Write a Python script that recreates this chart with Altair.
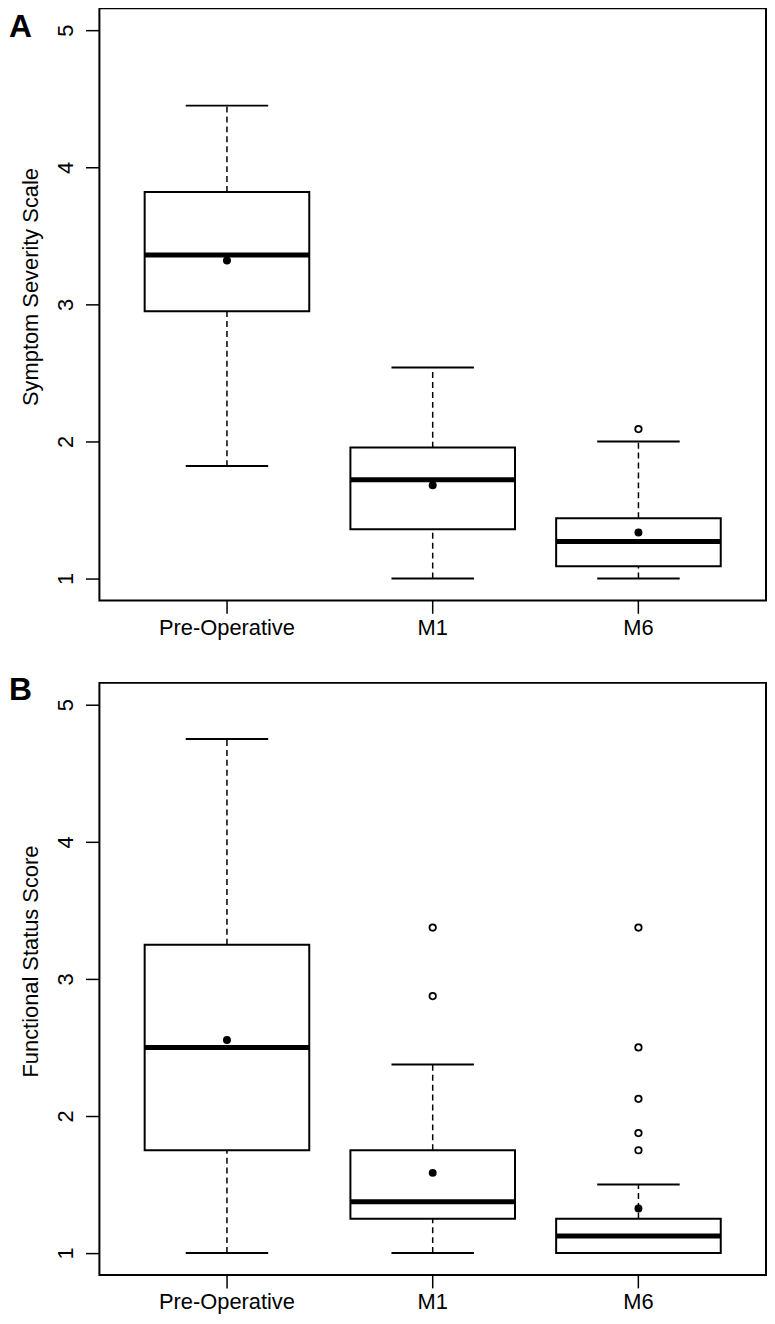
import altair as alt
import pandas as pd

categories = ["Pre-Operative", "M1", "M6"]

# Panel A: Symptom Severity Scale
a_lower = [1.82, 1.00, 1.00]
a_q1 = [2.95, 1.36, 1.09]
a_median = [3.36, 1.72, 1.27]
a_q3 = [3.82, 1.955, 1.44]
a_upper = [4.45, 2.54, 2.00]
a_mean = [3.32, 1.68, 1.335]
a_out_group = ["M6"]
a_out_value = [2.09]

# Panel B: Functional Status Score
b_lower = [1.00, 1.00, 1.00]
b_q1 = [1.75, 1.25, 1.00]
b_median = [2.50, 1.375, 1.125]
b_q3 = [3.25, 1.75, 1.25]
b_upper = [4.75, 2.375, 1.50]
b_mean = [2.555, 1.585, 1.325]
b_out_group = ["M1", "M1", "M6", "M6", "M6", "M6", "M6"]
b_out_value = [3.375, 2.875, 3.375, 2.50, 2.125, 1.875, 1.75]

FONT = "Liberation Sans"
W, H = 671, 596


def panel(letter, letter_y, ytitle, lower, q1, med, q3, upper, mean, og, ov):
    summ = pd.DataFrame({"group": categories, "lower": lower, "q1": q1,
                         "median": med, "q3": q3, "upper": upper, "mean": mean})
    outl = pd.DataFrame({"group": og, "value": ov})
    lab = pd.DataFrame({"t": [letter]})

    x = alt.X("group:N", sort=categories,
              scale=alt.Scale(paddingInner=0, paddingOuter=0.12),
              axis=alt.Axis(title=None, labelFontSize=22, labelAngle=0,
                            labelColor="black", tickColor="black", tickWidth=1.5,
                            tickSize=13, labelPadding=4, domain=False,
                            labelFont=FONT))
    yscale = alt.Scale(domain=[0.84, 5.16], nice=False, zero=False)
    yaxis = alt.Axis(title=ytitle, values=[1, 2, 3, 4, 5], format="d",
                     labelAngle=270, labelAlign="center", labelBaseline="bottom",
                     labelFontSize=22, labelColor="black", labelPadding=8,
                     tickColor="black", tickWidth=1.5, tickSize=14,
                     domain=False, grid=False, titleFontSize=22,
                     titleFontWeight="normal", titleColor="black",
                     titlePadding=12, titleFont=FONT, labelFont=FONT,
                     titleY=280)
    y = lambda f: alt.Y(f, type="quantitative", scale=yscale, axis=yaxis)

    base = alt.Chart(summ)
    wl = base.mark_rule(color="black", strokeWidth=1.5, strokeDash=[6, 4]).encode(
        x=x, y=y("lower"), y2="q1")
    wu = base.mark_rule(color="black", strokeWidth=1.5, strokeDash=[6, 4]).encode(
        x=x, y=y("q3"), y2="upper")
    box = base.mark_bar(fill="white", stroke="black", strokeWidth=2,
                        width=alt.RelativeBandSize(0.8)).encode(
        x=x, y=y("q1"), y2="q3")
    capl = base.mark_tick(color="black", size=83, thickness=2, opacity=1).encode(
        x=x, y=y("lower"))
    capu = base.mark_tick(color="black", size=83, thickness=2, opacity=1).encode(
        x=x, y=y("upper"))
    medt = base.mark_tick(color="black", size=166, thickness=5, opacity=1).encode(
        x=x, y=y("median"))
    meanp = base.mark_point(shape="circle", filled=True, color="black", size=64,
                            opacity=1).encode(x=x, y=y("mean"))
    outp = alt.Chart(outl).mark_point(shape="circle", filled=False, color="black",
                                      strokeWidth=1.8, size=42, opacity=1).encode(
        x=alt.X("group:N", sort=categories), y=alt.Y("value:Q"))
    txt = alt.Chart(lab).mark_text(fontSize=32, fontWeight="bold", font=FONT,
                                   align="left", baseline="alphabetic",
                                   color="black").encode(
        text="t:N", x=alt.value(-91), y=alt.value(letter_y))
    return alt.layer(wl, wu, box, capl, capu, medt, meanp, outp, txt).properties(
        width=W, height=H)


pa = panel("A", 29, "Symptom Severity Scale", a_lower, a_q1, a_median, a_q3,
           a_upper, a_mean, a_out_group, a_out_value)
pb = panel("B", 17, "Functional Status Score", b_lower, b_q1, b_median, b_q3,
           b_upper, b_mean, b_out_group, b_out_value)

chart = alt.vconcat(pa, pb, spacing=34).properties(
    padding={"left": 0, "top": -5, "right": 0, "bottom": 0}
).configure(font=FONT).configure_view(stroke="black", strokeWidth=2)

chart.save("out.html", embed_options={"renderer": "svg", "actions": False})
